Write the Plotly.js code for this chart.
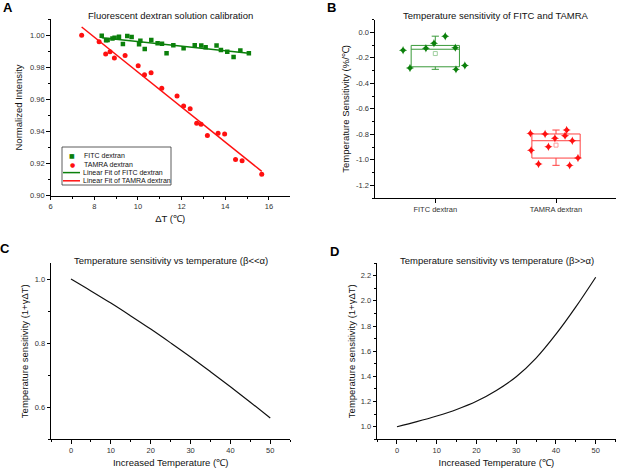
<!DOCTYPE html>
<html>
<head>
<meta charset="utf-8">
<script src="https://cdn.plot.ly/plotly-3.0.1.min.js"></script>
<style>html,body{margin:0;padding:0;background:#fff}#chart{width:617px;height:469px}</style>
</head>
<body>
<div id="chart"></div>
<script>
// ---- Panel A data: normalized intensity vs ΔT ----
var fitcX = [8.34, 8.54, 8.61, 8.83, 8.93, 9.13, 9.31, 9.51, 9.71, 10.05, 10.11, 10.31, 10.61, 10.90, 11.10, 11.31, 11.62, 12.09, 12.60, 12.90, 13.10, 13.60, 13.80, 14.09, 14.38, 14.69, 15.08];
var fitcY = [0.9998, 0.9969, 0.9971, 0.9981, 0.9985, 0.9992, 0.9946, 0.9996, 0.9990, 0.9944, 0.9967, 0.9915, 0.9971, 0.9950, 0.9948, 0.9888, 0.9938, 0.9919, 0.9938, 0.9936, 0.9925, 0.9936, 0.9909, 0.9898, 0.9865, 0.9906, 0.9888];
var tamraX = [7.42, 8.22, 8.52, 8.72, 8.92, 9.41, 10.01, 10.30, 10.60, 11.09, 11.79, 12.09, 12.39, 12.69, 12.89, 13.18, 13.67, 13.97, 14.47, 14.77, 15.67];
var tamraY = [1.000, 0.9960, 0.9884, 0.9898, 0.9858, 0.9874, 0.9810, 0.9754, 0.9766, 0.9670, 0.9622, 0.9559, 0.9542, 0.9451, 0.9446, 0.9376, 0.9390, 0.9384, 0.9226, 0.9218, 0.9134];

// ---- Panel B data: temperature sensitivity (%/℃) ----
var boxCategories = ['FITC dextran', 'TAMRA dextran'];
var fitcSens = [-0.125, -0.120, -0.290, -0.030, -0.260, -0.140, -0.280, -0.085];
var tamraSens = [-0.850, -0.925, -0.797, -1.033, -0.810, -0.766, -1.043, -0.831, -0.792, -0.897, -0.986];
var sensTickVals = [-1.2, -1.0, -0.8, -0.6, -0.4, -0.2, 0.0];

// ---- Panels C and D data ----
var tempC = [0, 5, 10, 15, 20, 25, 30, 35, 40, 45, 50];
var sensSmallBeta = [1.000, 0.963, 0.925, 0.885, 0.844, 0.801, 0.757, 0.711, 0.664, 0.616, 0.567];
var sensLargeBeta = [1.000, 1.040, 1.085, 1.137, 1.202, 1.288, 1.397, 1.545, 1.735, 1.952, 2.188];

// ---- styling ----
var FONT = 'Arial, "Liberation Sans", sans-serif';
var GREEN = '#0b800b', RED = '#ff1010';
var tickFont = {family: FONT, size: 7.5, color: '#333'};
var titleFont = {family: FONT, size: 9.5, color: '#111'};

function linFit(xs, ys) {
  var n = xs.length, sx = 0, sy = 0, sxx = 0, sxy = 0;
  for (var i = 0; i < n; i++) { sx += xs[i]; sy += ys[i]; sxx += xs[i]*xs[i]; sxy += xs[i]*ys[i]; }
  var b = (n*sxy - sx*sy) / (n*sxx - sx*sx), a = (sy - b*sx) / n;
  var x0 = Math.min.apply(null, xs), x1 = Math.max.apply(null, xs);
  return {x: [x0, x1], y: [a + b*x0, a + b*x1]};
}
function mean(a) { return a.reduce(function(s, v){ return s + v; }, 0) / a.length; }
function rep(v, n) { var r = []; for (var i = 0; i < n; i++) r.push(v); return r; }

var fitF = linFit(fitcX, fitcY), fitT = linFit(tamraX, tamraY);

var traces = [
  {x: fitcX, y: fitcY, type: 'scatter', mode: 'markers', xaxis: 'x', yaxis: 'y',
   marker: {symbol: 'square', size: 4.5, color: GREEN}},
  {x: tamraX, y: tamraY, type: 'scatter', mode: 'markers', xaxis: 'x', yaxis: 'y',
   marker: {symbol: 'circle', size: 5, color: RED}},
  {x: fitF.x, y: fitF.y, type: 'scatter', mode: 'lines', xaxis: 'x', yaxis: 'y',
   line: {color: GREEN, width: 1.5}},
  {x: fitT.x, y: fitT.y, type: 'scatter', mode: 'lines', xaxis: 'x', yaxis: 'y',
   line: {color: RED, width: 1.5}}
];

// Panel B boxes
[[fitcSens, boxCategories[0], GREEN, '#3a9a3a', '#9fcf9f'],
 [tamraSens, boxCategories[1], RED, '#ff4040', '#ff9a9a']].forEach(function(g) {
  var xs = rep(g[1], g[0].length);
  traces.push({type: 'box', x: xs, y: g[0], xaxis: 'x2', yaxis: 'y2', boxpoints: false,
    width: 0.4, whiskerwidth: 0.15, quartilemethod: 'exclusive',
    line: {color: g[3], width: 1}, fillcolor: 'rgba(0,0,0,0)', hoverinfo: 'skip'});
  traces.push({type: 'box', x: xs, y: g[0], xaxis: 'x2', yaxis: 'y2', boxpoints: 'all',
    jitter: 1, pointpos: 0, width: 0.66, line: {color: 'rgba(0,0,0,0)', width: 0},
    fillcolor: 'rgba(0,0,0,0)', marker: {symbol: 'star-diamond', size: 6, color: g[2]}});
  traces.push({type: 'scatter', mode: 'markers', x: [g[1]], y: [mean(g[0])], xaxis: 'x2', yaxis: 'y2',
    marker: {symbol: 'square-open', size: 4, color: g[4], line: {width: 1}}});
});

traces.push({x: tempC, y: sensSmallBeta, type: 'scatter', mode: 'lines', xaxis: 'x3', yaxis: 'y3',
  line: {color: '#111', width: 1.2, shape: 'spline'}});
traces.push({x: tempC, y: sensLargeBeta, type: 'scatter', mode: 'lines', xaxis: 'x4', yaxis: 'y4',
  line: {color: '#111', width: 1.2, shape: 'spline'}});

function axis(o) {
  var base = {showline: true, linecolor: '#000', linewidth: 1, ticks: 'outside', ticklen: 3.5,
    tickwidth: 1, tickcolor: '#000', showgrid: false, zeroline: false, tickfont: tickFont,
    mirror: false};
  for (var k in o) base[k] = o[k];
  return base;
}
function minor(d) { return {dtick: d, ticks: 'outside', ticklen: 2, tickcolor: '#000', showgrid: false}; }

var layout = {
  width: 617, height: 469, margin: {l: 0, r: 0, t: 0, b: 0},
  paper_bgcolor: '#fff', plot_bgcolor: '#fff', showlegend: false, boxmode: 'overlay',
  font: {family: FONT},
  xaxis: axis({domain: [0.0821, 0.4695], range: [6, 16.95], tick0: 6, dtick: 2, minor: minor(1), anchor: 'y',
    title: {text: 'ΔT (℃)', font: titleFont, standoff: 5}}),
  yaxis: axis({domain: [0.5828, 0.9588], range: [0.9, 1.01], tick0: 0.9, dtick: 0.02, tickformat: '.2f',
    minor: minor(0.01), anchor: 'x', title: {text: 'Normalized Intensity', font: titleFont, standoff: 5}}),
  xaxis2: axis({domain: [0.6077, 0.999], range: [-0.5, 1.5], type: 'category', anchor: 'y2',
    categoryorder: 'array', categoryarray: boxCategories}),
  yaxis2: axis({domain: [0.5776, 0.9582], range: [-1.3, 0.1], tickmode: 'array', tickvals: sensTickVals,
    ticktext: sensTickVals.map(function(v){ return v.toFixed(1); }), minor: {tickmode: 'linear', tick0: 0, dtick: 0.1, ticks: 'outside', ticklen: 2, tickcolor: '#000'},
    anchor: 'x2', title: {text: 'Temperature Sensitivity (%/℃)', font: titleFont, standoff: 4}}),
  xaxis3: axis({domain: [0.0828, 0.4703], range: [-5, 55], tick0: 0, dtick: 10, minor: minor(5), anchor: 'y3',
    title: {text: 'Increased Temperature (℃)', font: titleFont, standoff: 5}}),
  yaxis3: axis({domain: [0.0631, 0.4392], range: [0.5, 1.05], tick0: 0, dtick: 0.2, tickformat: '.1f',
    minor: minor(0.1), anchor: 'x3', title: {text: 'Temperature sensitivity (1+γΔT)', font: titleFont, standoff: 4}}),
  xaxis4: axis({domain: [0.6112, 0.9977], range: [-5, 55], tick0: 0, dtick: 10, minor: minor(5), anchor: 'y4',
    title: {text: 'Increased Temperature (℃)', font: titleFont, standoff: 5}}),
  yaxis4: axis({domain: [0.0633, 0.439], range: [0.9, 2.3], tick0: 0, dtick: 0.2, tickformat: '.1f',
    minor: minor(0.1), anchor: 'x4', title: {text: 'Temperature sensitivity (1+γΔT)', font: titleFont, standoff: 3}}),
  annotations: [],
  shapes: []
};

function ann(text, x, y, font, xanchor) {
  layout.annotations.push({text: text, x: x, y: y, xref: 'paper', yref: 'paper', showarrow: false,
    xanchor: xanchor || 'center', yanchor: 'middle', font: font});
}
var W = 617, H = 469;
function px(x) { return x / W; }
function py(y) { return (H - y) / H; }

// panel letters
var letterFont = {family: FONT, size: 13, color: '#000', weight: 'bold'};
ann('<b>A</b>', px(8), py(7), letterFont);
ann('<b>B</b>', px(331), py(7), letterFont);
ann('<b>C</b>', px(5), py(249), letterFont);
ann('<b>D</b>', px(334), py(251), letterFont);

// subplot titles
ann('Fluorescent dextran solution calibration', px(170), py(16), titleFont);
ann('Temperature sensitivity of FITC and TAMRA', px(495.5), py(16), titleFont);
ann('Temperature sensitivity vs temperature (β&lt;&lt;α)', px(171), py(260), titleFont);
ann('Temperature sensitivity vs temperature (β&gt;&gt;α)', px(497), py(260), titleFont);

// legend for panel A
var legFont = {family: FONT, size: 7, color: '#111'};
layout.shapes.push({type: 'rect', xref: 'paper', yref: 'paper', x0: px(62), x1: px(171), y0: py(147), y1: py(185),
  line: {color: '#333', width: 0.8}, fillcolor: '#fff', layer: 'above'});
var legRows = [155.2, 164, 172.6, 180.8];
ann('FITC dextran', px(82), py(legRows[0]), legFont, 'left');
ann('TAMRA dextran', px(82), py(legRows[1]), legFont, 'left');
ann('Linear Fit of FITC dextran', px(81), py(legRows[2]), legFont, 'left');
ann('Linear Fit of TAMRA dextran', px(81), py(legRows[3]), legFont, 'left');
ann('■', px(72), py(legRows[0]), {family: 'DejaVu Sans', size: 6, color: GREEN});
ann('●', px(72), py(legRows[1]), {family: 'DejaVu Sans', size: 6, color: RED});
layout.shapes.push({type: 'line', xref: 'paper', yref: 'paper', x0: px(63), x1: px(80), y0: py(legRows[2]), y1: py(legRows[2]),
  line: {color: GREEN, width: 1.5}, layer: 'above'});
layout.shapes.push({type: 'line', xref: 'paper', yref: 'paper', x0: px(63), x1: px(80), y0: py(legRows[3]), y1: py(legRows[3]),
  line: {color: RED, width: 1.5}, layer: 'above'});

Plotly.newPlot('chart', traces, layout, {displayModeBar: false, staticPlot: true});
</script>
</body>
</html>
